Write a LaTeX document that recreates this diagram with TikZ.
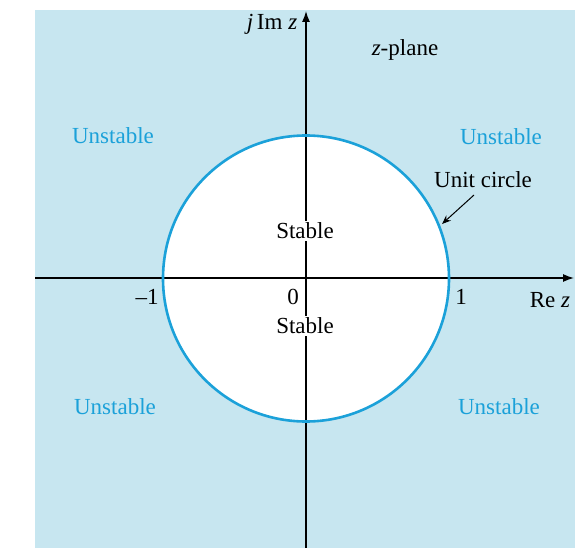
\documentclass[tikz,border=0pt]{standalone}
\usepackage{fontspec}
\setmainfont{Liberation Serif}
\usetikzlibrary{arrows.meta, positioning}
\definecolor{planeblue}{RGB}{199,230,240}
\definecolor{circblue}{RGB}{27,161,217}

\begin{document}
\begin{tikzpicture}[x=1pt,y=-1pt,thick]

	\tikzset{
		region/.style={
				text=circblue, inner sep=0pt, font=\fontsize{23}{26}\selectfont
			},
		lbl/.style={
				inner sep=0pt, font=\fontsize{23}{26}\selectfont
			},
		stable/.style={
				fill=white, inner sep=2pt, font=\fontsize{23}{26}\selectfont
			},
		axis/.style={
				line width=1.3pt, -{Latex[length=11pt,width=8pt]}
			},
	}
	\useasboundingbox (0,0) rectangle (575,548);
	\fill[planeblue] (35,10) rectangle (575,548);
	\fill[white] (306,278.5) circle (143);

	\coordinate (o) at (306,278);
	\coordinate (xl) at (35,278);
	\coordinate (xr) at (574,278);
	\coordinate (yb) at (306,548);
	\coordinate (yt) at (306,11);
	\coordinate (c) at (442,224);

	\draw[axis] (xl)--(xr);
	\draw[axis] (yb)--(yt);
	\draw[circblue, line width=2.6pt] (306,278.5) circle (143);

	\node[stable](s1) at (305,231){Stable};
	\node[stable](s2) at (305,326){Stable};

	\node[region](u1) at (113,136){Unstable};
	\node[region](u2) at (501,137){Unstable};
	\node[region](u3) at (115,407){Unstable};
	\node[region](u4) at (499,407){Unstable};

	\node[lbl](im) at (272,24){\textit{j}\,Im \textit{z}};
	\node[lbl](zp) at (405,50){\textit{z}-plane};
	\node[lbl](uc) at (483,180){Unit circle};
	\node[lbl](n0) at (293,297){0};
	\node[lbl](m1) at (147,297){\textendash1};
	\node[lbl](p1) at (461,297){1};
	\node[lbl](re) at (550,300){Re \textit{z}};

	\draw[line width=1pt, -{Stealth[length=9pt,width=7pt]}] (474,195)--(c);

\end{tikzpicture}
\end{document}
